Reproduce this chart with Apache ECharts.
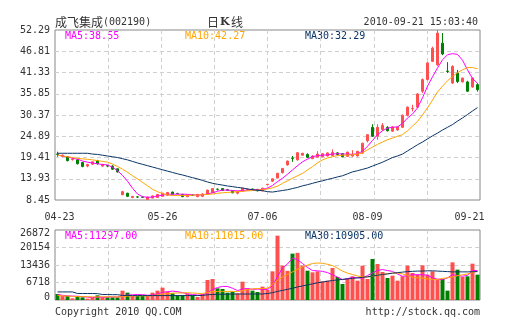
<!DOCTYPE html>
<html><head><meta charset="utf-8">
<script src="https://cdn.jsdelivr.net/npm/echarts@6/dist/echarts.min.js"></script>
<style>html,body{margin:0;padding:0;background:#fff}#c{width:505px;height:330px}</style>
</head><body><div id="c"></div>
<script>
// ---- data ----
const tickIndex = [0, 21, 41, 62, 84];
const tickLabels = ['04-23', '05-26', '07-06', '08-09', '09-21'];
const candleCount = 85;

const open = [20.3,19.7,19.6,18.9,18.8,18.1,17.2,17.7,18.6,17.2,
  17.3,17.2,16.5,9.8,10.2,9.1,9.25,9.2,8.6,8.95,
  9.1,9.4,9.65,10.5,10.15,9.9,9.3,9.75,9.3,9.4,
  10.0,10.4,11.25,11.4,11.1,10.8,10.2,10.7,11.15,11.25,
  11.2,10.8,12.4,13.3,14.1,15.5,17.5,19.3,18.8,20.0,
  20.2,19.1,19.5,19.6,19.8,19.9,20.6,20.4,19.7,19.8,
  19.8,20.55,23.7,27.2,24.9,26.6,27.2,26.2,26.5,27.2,
  30.3,32.0,32.4,36.5,39.5,44.2,43.3,48.9,41.7,38.6,
  41.2,38.9,38.9,37.6,38.2];
const close = [20.2,20.0,18.6,19.0,17.8,17.1,17.6,18.3,17.8,17.6,
  17.2,16.4,15.7,10.6,9.4,9.4,9.2,9.15,9.2,9.5,
  9.9,10.2,10.4,9.95,10.1,9.3,9.8,9.7,9.9,10.0,
  11.0,11.4,11.2,10.9,10.95,10.3,10.6,11.5,11.2,11.2,
  10.8,11.5,12.5,13.9,15.35,16.6,18.5,19.2,20.65,20.5,
  19.45,19.8,20.3,20.4,20.6,20.7,20.2,19.6,20.8,20.2,
  21.0,23.1,25.3,24.9,27.2,27.7,26.3,27.3,27.3,30.3,
  32.4,32.1,35.8,39.5,43.8,47.6,51.5,46.1,41.6,42.9,
  39.0,39.9,36.5,39.9,36.9];
const low = [19.6,19.5,18.4,18.6,17.6,16.9,16.9,17.5,17.6,17.0,
  16.9,16.2,15.5,9.7,9.2,8.9,8.95,9.0,8.45,8.9,
  9.0,9.3,9.6,9.9,9.9,9.2,9.2,9.5,9.2,9.2,
  9.9,10.3,10.9,10.8,10.8,10.2,9.9,10.6,10.9,11.0,
  10.7,10.7,12.3,13.1,14.0,15.3,17.3,18.3,18.6,19.9,
  19.3,19.0,19.4,19.5,19.7,19.8,19.9,19.5,19.6,19.6,
  19.7,20.3,23.3,24.7,24.0,26.3,26.1,26.0,26.3,27.0,
  30.0,31.3,32.2,36.0,39.3,44.0,43.0,45.8,41.2,38.4,
  38.6,38.8,36.3,37.4,36.4];
const high = [20.9,20.2,19.8,19.4,19.0,18.3,17.8,18.4,18.8,17.8,
  17.5,17.4,16.6,10.8,10.3,9.5,9.4,9.3,9.3,9.6,
  10.0,10.3,10.5,10.6,10.3,10.0,9.9,9.9,10.0,10.2,
  11.1,11.5,11.4,11.5,11.3,10.9,10.8,11.6,11.5,11.4,
  11.3,11.6,12.6,14.0,15.4,16.7,18.6,19.8,20.8,20.6,
  20.5,20.0,21.05,20.5,20.7,21.5,20.8,20.5,20.9,21.3,
  21.1,23.2,25.4,28.0,28.0,28.3,27.5,27.5,27.4,30.5,
  32.6,33.0,36.0,39.8,44.0,48.0,52.29,51.5,44.0,43.2,
  42.0,40.0,39.2,40.1,38.6];
const volume = [2300,1540,1540,640,1540,1020,510,1020,1790,1020,
  1020,1020,1020,3580,2815,1540,1540,1540,1790,2815,
  3580,4735,3200,2560,1790,1790,2300,1790,1150,2300,
  7680,8060,4480,4220,2815,3200,2560,7040,4480,3580,
  3070,5120,3900,11000,24700,13200,11200,17800,18100,13180,
  11260,10620,11000,7170,7420,12280,8830,6140,8450,9090,
  7420,13180,8060,15740,13820,10750,8450,9340,7420,9090,
  13180,10370,9730,13310,9730,11000,7810,8060,3580,14460,
  11650,8830,9090,13950,9730];
const ma5 = [20.05,19.8,19.6,19.2,19.0,18.5,18.2,18.0,17.8,17.6,
  17.5,16.9,16.0,14.8,13.3,11.5,10.0,9.3,9.15,9.2,
  9.5,9.7,9.9,9.95,9.95,9.95,9.9,9.8,9.7,9.8,
  10.0,10.3,10.7,11.0,11.0,10.9,10.8,10.9,11.0,11.1,
  11.1,11.2,11.5,12.2,13.2,14.05,15.1,16.2,17.3,18.3,
  19.0,19.6,19.9,20.0,20.1,20.3,20.4,20.3,20.3,20.2,
  20.4,21.0,22.3,23.8,25.3,26.3,27.0,27.2,27.3,28.2,
  29.6,30.6,32.2,34.8,37.8,40.2,42.5,44.6,45.9,46.2,
  46.0,44.5,42.0,39.8,38.55];
const ma10 = [20.0,19.8,19.6,19.4,19.2,19.05,18.95,18.8,18.6,18.4,
  18.2,17.7,17.1,16.4,15.6,14.7,13.9,13.0,12.1,11.2,
  10.6,10.1,9.8,9.6,9.6,9.6,9.65,9.7,9.72,9.8,
  9.9,10.0,10.2,10.3,10.4,10.5,10.6,10.7,10.8,10.9,
  11.0,11.1,11.3,11.6,12.0,12.75,13.4,14.05,14.7,15.3,
  16.2,17.05,18.0,18.8,19.3,19.6,19.9,20.0,20.05,20.1,
  20.3,20.6,21.4,22.1,22.8,23.4,24.0,24.4,24.9,25.3,
  26.3,27.5,28.7,30.4,32.2,34.2,36.3,37.8,39.2,40.3,
  41.3,42.0,42.6,42.6,42.27];
const ma30 = [20.5,20.5,20.5,20.5,20.5,20.5,20.5,20.3,20.2,20.0,
  19.8,19.6,19.4,19.1,18.8,18.4,18.0,17.65,17.3,16.95,
  16.6,16.25,15.9,15.55,15.2,14.9,14.55,14.2,13.9,13.5,
  13.1,12.75,12.5,12.3,12.06,11.9,11.7,11.55,11.3,11.1,
  10.95,10.85,10.6,10.5,10.7,10.9,11.1,11.4,11.7,12.1,
  12.4,12.75,13.1,13.4,13.75,14.05,14.4,14.7,15.2,15.7,
  16.0,16.35,16.7,17.2,17.7,18.2,18.8,19.4,19.8,20.3,
  21.1,21.9,22.7,23.4,24.2,25.0,25.7,26.5,27.2,27.9,
  28.8,29.6,30.5,31.4,32.29];
const volMa5 = [2100,1800,1600,1500,1450,1300,1100,900,1100,1050,
  1100,1200,1150,1550,1900,2000,2100,2050,1800,1900,
  2300,2900,3200,3400,3200,2800,2400,2100,1900,1900,
  2800,4000,4800,5200,5200,4500,3600,4200,4400,4100,
  4200,4100,4000,5500,9000,12300,13800,16100,15500,14000,
  12500,11300,11200,11000,10500,9700,8800,7800,8200,8700,
  8500,8400,9400,10400,11300,11700,11300,11000,10000,9100,
  9300,9700,9700,9700,9500,8500,8000,7800,8500,9700,
  9400,9100,9500,11300,11297];
const volMa10 = [1700,1600,1500,1400,1300,1300,1250,1200,1200,1250,
  1250,1200,1150,1300,1450,1500,1550,1600,1550,1700,
  1950,2300,2500,2600,2700,2700,2800,2700,2550,2500,
  2900,3200,3300,3300,3300,3300,3200,3600,4000,4300,
  4400,4400,4500,5900,7500,8800,9800,10800,11800,12700,
  13400,14000,14200,14100,13700,13200,12200,11100,10300,9800,
  9200,8900,8800,9100,9500,9800,10100,10300,10400,10000,
  9500,8800,8500,8400,8100,7900,7900,8300,8500,8900,
  9300,9700,10000,10500,11015];
const volMa30 = [3100,3100,3100,3100,2500,2500,2500,2500,2450,2100,
  2100,2050,2050,1750,1700,1700,1700,1700,1700,1700,
  1700,1700,1700,1700,1700,1700,1700,1700,1700,1750,
  2000,2100,2200,2200,2250,2250,2300,2300,2300,2300,
  2300,2300,2500,2800,3300,3700,4100,4500,5000,5400,
  5800,6200,6600,6900,7200,7500,7700,7900,8100,8300,
  8500,8700,8900,9200,9500,9800,10000,10300,10500,10700,
  10900,11000,11100,11100,11200,11200,11100,11000,10900,10800,
  10800,10800,10800,10850,10905];
const priceTicks = {min: 8.45, max: 52.29, step: 5.48};
const volTicks = {min: 0, max: 26872, step: 6718};
const legendPrice = ['MA5:38.55', 'MA10:42.27', 'MA30:32.29'];
const legendVol = ['MA5:11297.00', 'MA10:11015.00', 'MA30:10905.00'];

// ---- chart ----
const UP = '#FF5050', DOWN = '#008000';
const C5 = '#FF00FF', C10 = '#FFA500', C30 = '#0A3566';
const MONO = '"DejaVu Sans Mono", monospace';
const CJK = '"Noto Sans CJK SC", sans-serif';
const TXT = '#333';

const cats = [];
for (let i = 0; i < candleCount; i++) cats.push(String(i));
const ohlc = open.map((o, i) => [o, close[i], low[i], high[i]]);
const volData = volume.map((v, i) => ({value: v, itemStyle: {color: close[i] >= open[i] ? UP : DOWN}}));

const dashed = {show: true, lineStyle: {color: '#d0d0d0', type: [4, 3], width: 1}, showMinLine: false, showMaxLine: false};

function gridX(gi) {
  return {type: 'value', gridIndex: gi, min: 0, max: 8, interval: 1,
    axisLine: {show: false}, axisTick: {show: false}, axisLabel: {show: false},
    splitLine: dashed};
}

const chart = echarts.init(document.getElementById('c'), null, {renderer: 'canvas'});
chart.setOption({
  animation: false,
  backgroundColor: '#fff',
  grid: [
    {left: 55, top: 30, width: 425, height: 170, show: true, borderColor: '#888', borderWidth: 1},
    {left: 55, top: 230, width: 425, height: 70, show: true, borderColor: '#888', borderWidth: 1}
  ],
  xAxis: [
    {type: 'category', gridIndex: 0, data: cats, boundaryGap: true,
      axisLine: {show: false}, axisTick: {show: false}, splitLine: {show: false},
      axisLabel: {
        interval: (idx) => tickIndex.indexOf(idx) >= 0,
        formatter: (v, idx) => {
          const k = tickIndex.indexOf(Number(v));
          if (k < 0) return '';
          if (k === 0) return '{l|' + tickLabels[k] + '}';
          if (k === tickLabels.length - 1) return '{r|' + tickLabels[k] + '}';
          return tickLabels[k];
        },
        rich: {
          l: {padding: [0, 0, 0, 4], fontFamily: MONO, fontSize: 10, color: TXT},
          r: {padding: [0, 16, 0, 0], fontFamily: MONO, fontSize: 10, color: TXT}
        },
        color: TXT, fontFamily: MONO, fontSize: 10, margin: 12
      }},
    gridX(0),
    {type: 'category', gridIndex: 1, data: cats, boundaryGap: true,
      axisLine: {show: false}, axisTick: {show: false}, axisLabel: {show: false}, splitLine: {show: false}},
    gridX(1)
  ],
  yAxis: [
    {type: 'value', gridIndex: 0, min: priceTicks.min, max: priceTicks.max, interval: priceTicks.step,
      axisLine: {show: false}, axisTick: {show: false},
      axisLabel: {formatter: (v) => v.toFixed(2), color: TXT, fontFamily: MONO, fontSize: 10, margin: 5},
      splitLine: dashed},
    {type: 'value', gridIndex: 1, min: volTicks.min, max: volTicks.max, interval: volTicks.step,
      axisLine: {show: false}, axisTick: {show: false},
      axisLabel: {
        formatter: (v) => v === volTicks.min ? '{b|' + v + '}' : (v === volTicks.max ? '{t|' + v + '}' : String(v)),
        rich: {
          b: {padding: [0, 0, 6, 0], fontFamily: MONO, fontSize: 10, color: TXT},
          t: {padding: [6, 0, 0, 0], fontFamily: MONO, fontSize: 10, color: TXT}
        },
        color: TXT, fontFamily: MONO, fontSize: 10, margin: 5},
      splitLine: dashed}
  ],
  series: [
    {type: 'candlestick', xAxisIndex: 0, yAxisIndex: 0, data: ohlc, barWidth: 3,
      itemStyle: {color: UP, color0: DOWN, borderColor: UP, borderColor0: DOWN, borderWidth: 1}},
    {type: 'line', xAxisIndex: 0, yAxisIndex: 0, data: ma5, symbol: 'none', lineStyle: {color: C5, width: 1}},
    {type: 'line', xAxisIndex: 0, yAxisIndex: 0, data: ma10, symbol: 'none', lineStyle: {color: C10, width: 1}},
    {type: 'line', xAxisIndex: 0, yAxisIndex: 0, data: ma30, symbol: 'none', lineStyle: {color: C30, width: 1}},
    {type: 'bar', xAxisIndex: 2, yAxisIndex: 1, data: volData, barWidth: 4},
    {type: 'line', xAxisIndex: 2, yAxisIndex: 1, data: volMa5, symbol: 'none', lineStyle: {color: C5, width: 1}},
    {type: 'line', xAxisIndex: 2, yAxisIndex: 1, data: volMa10, symbol: 'none', lineStyle: {color: C10, width: 1}},
    {type: 'line', xAxisIndex: 2, yAxisIndex: 1, data: volMa30, symbol: 'none', lineStyle: {color: C30, width: 1}}
  ],
  graphic: [
    {type: 'text', x: 55, y: 22, style: {text: '成飞集成', fill: TXT, font: '12px ' + CJK, textVerticalAlign: 'middle'}},
    {type: 'text', x: 103, y: 22, style: {text: '(002190)', fill: TXT, font: '10px ' + MONO, textVerticalAlign: 'middle'}},
    {type: 'text', x: 207, y: 22, style: {text: '日', fill: TXT, font: '12px ' + CJK, textVerticalAlign: 'middle'}},
    {type: 'text', x: 220, y: 22, style: {text: 'K', fill: TXT, font: 'bold 11px "DejaVu Serif", serif', textVerticalAlign: 'middle'}},
    {type: 'text', x: 231, y: 22, style: {text: '线', fill: TXT, font: '12px ' + CJK, textVerticalAlign: 'middle'}},
    {type: 'text', x: 478, y: 22, style: {text: '2010-09-21 15:03:40', fill: TXT, font: '10px ' + MONO, textAlign: 'right', textVerticalAlign: 'middle'}},
    {type: 'text', x: 65, y: 36, style: {text: legendPrice[0], fill: C5, font: '10px ' + MONO, textVerticalAlign: 'middle'}},
    {type: 'text', x: 185, y: 36, style: {text: legendPrice[1], fill: C10, font: '10px ' + MONO, textVerticalAlign: 'middle'}},
    {type: 'text', x: 305, y: 36, style: {text: legendPrice[2], fill: C30, font: '10px ' + MONO, textVerticalAlign: 'middle'}},
    {type: 'text', x: 65, y: 236, style: {text: legendVol[0], fill: C5, font: '10px ' + MONO, textVerticalAlign: 'middle'}},
    {type: 'text', x: 185, y: 236, style: {text: legendVol[1], fill: C10, font: '10px ' + MONO, textVerticalAlign: 'middle'}},
    {type: 'text', x: 305, y: 236, style: {text: legendVol[2], fill: C30, font: '10px ' + MONO, textVerticalAlign: 'middle'}},
    {type: 'text', x: 55, y: 312, style: {text: 'Copyright 2010 QQ.COM', fill: TXT, font: '10px ' + MONO, textVerticalAlign: 'middle'}},
    {type: 'text', x: 480, y: 312, style: {text: 'http://stock.qq.com', fill: TXT, font: '10px ' + MONO, textAlign: 'right', textVerticalAlign: 'middle'}}
  ]
});
</script></body></html>
